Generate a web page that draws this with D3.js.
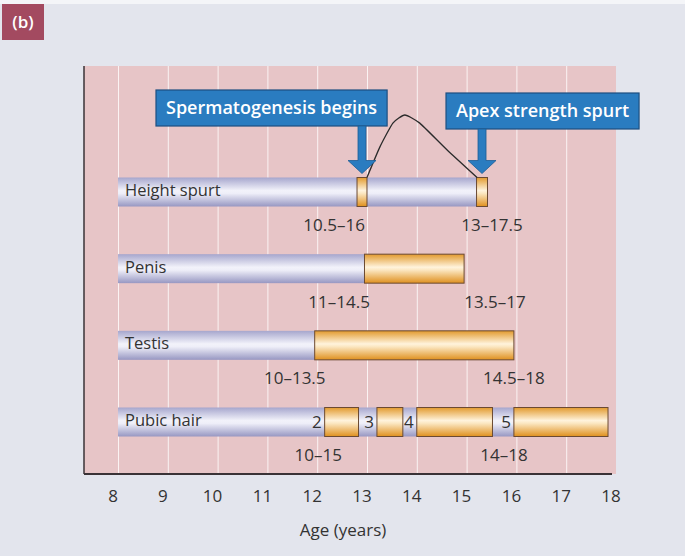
<!DOCTYPE html>
<html lang="en">
<head>
    <meta charset="UTF-8">
    <title>Puberty timing (b)</title>
    <style>
        html,body{
            margin:0;
            height: 100%;
            overflow: hidden;
            background:#e3e5ed;
        }
        text{ font-family: "Open Sans", "Noto Sans", sans-serif; }
    </style>
</head>
<body>
    <svg id="svg"></svg>
    <script src="https://d3js.org/d3.v7.min.js"></script>
    <script>
        // data (ages in years)
        const stages = ["Height spurt", "Penis", "Testis", "Pubic hair"];
        const grayEnd = [15.3, 13.05, 12.05, 16.05];
        const orangeSegs = [
            [[12.9, 13.1], [15.3, 15.52]],
            [[13.05, 15.05]],
            [[12.05, 16.05]],
            [[12.25, 12.93], [13.3, 13.82], [14.1, 15.62], [16.05, 17.94]]
        ];
        const pubicStages = ["2", "3", "4", "5"];
        const onsetRange = ["10.5–16", "11–14.5", "10–13.5", "10–15"];
        const onsetAt = [12.44, 12.54, 11.65, 12.12];
        const endRange = ["13–17.5", "13.5–17", "14.5–18", "14–18"];
        const endAt = [15.61, 15.67, 16.05, 15.85];
        const calloutText = ["Spermatogenesis begins", "Apex strength spurt"];
        const calloutAge = [13.0, 15.41];
        // height velocity peak drawn above the height spurt bar
        const peakAge = [13.1, 13.36, 13.62, 13.86, 14.16, 14.71, 15.31];
        const peakVal = [0, 0.49, 0.87, 1.0, 0.87, 0.44, 0];
        const ticks = [8, 9, 10, 11, 12, 13, 14, 15, 16, 17, 18];

        const width = 685, height = 556;
        const svg = d3.select("#svg").attr('width', width).attr('height', height);

        const plot = { left: 84, right: 616, top: 66, bottom: 474 };
        const x = d3.scaleLinear().domain([8, 18]).range([113, 611]);
        const y = d3.scalePoint().domain(stages).range([192, 422]);
        const barH = 29;

        const defs = svg.append('defs');
        const grad = (id, stops) => {
            const g = defs.append('linearGradient').attr('id', id)
                .attr('x1', 0).attr('y1', 0).attr('x2', 0).attr('y2', 1);
            stops.forEach(s => g.append('stop').attr('offset', s[0]).attr('stop-color', s[1]));
        };
        grad('grayGrad', [[0, '#a6a6cd'], [0.45, '#f2f2fa'], [0.55, '#eeeef8'], [1, '#9797c2']]);
        grad('orangeGrad', [[0, '#e29a2e'], [0.45, '#fff3dc'], [0.55, '#fbe6c0'], [1, '#df901e']]);

        // page background + badge
        svg.append('rect').attr('width', width).attr('height', height).attr('fill', '#e3e5ed');
        svg.append('rect').attr('width', width).attr('height', 4).attr('fill', '#f4f5f8');
        svg.append('rect').attr('x', 2).attr('y', 4).attr('width', 42).attr('height', 36)
            .attr('fill', '#a34a60');
        svg.append('text').attr('x', 23).attr('y', 22).attr('dy', '0.36em')
            .attr('text-anchor', 'middle').attr('fill', '#fff')
            .attr('font-size', 17).attr('font-weight', 600).text('(b)');

        // plot area
        svg.append('rect').attr('x', plot.left).attr('y', plot.top)
            .attr('width', plot.right - plot.left).attr('height', plot.bottom - plot.top)
            .attr('fill', '#e7c5c7');
        svg.append('g').selectAll('line').data(ticks.slice(0, -1)).join('line')
            .attr('x1', d => x(d) + 5.5).attr('x2', d => x(d) + 5.5)
            .attr('y1', plot.top).attr('y2', plot.bottom)
            .attr('stroke', '#fbf3f3').attr('stroke-width', 1);
        svg.append('line').attr('x1', plot.left).attr('x2', plot.left)
            .attr('y1', plot.top).attr('y2', plot.bottom)
            .attr('stroke', '#3a3236').attr('stroke-width', 1.5);
        svg.append('line').attr('x1', plot.left).attr('x2', plot.right - 4)
            .attr('y1', plot.bottom).attr('y2', plot.bottom)
            .attr('stroke', '#3a3236').attr('stroke-width', 2);

        // x axis labels
        svg.append('g').selectAll('text').data(ticks).join('text')
            .attr('x', d => x(d)).attr('y', 496).attr('dy', '0.36em')
            .attr('text-anchor', 'middle').attr('font-size', 17).attr('fill', '#333')
            .text(d => d);
        svg.append('text').attr('x', 343).attr('y', 530).attr('dy', '0.36em')
            .attr('text-anchor', 'middle').attr('font-size', 17).attr('fill', '#333')
            .text('Age (years)');

        // bars
        const rows = svg.append('g').selectAll('g').data(stages).join('g')
            .attr('transform', d => `translate(0,${y(d)})`);
        rows.append('rect')
            .attr('x', x(8.1)).attr('y', -barH / 2)
            .attr('width', (d, i) => x(grayEnd[i]) - x(8.1)).attr('height', barH)
            .attr('fill', 'url(#grayGrad)');
        rows.each(function (d, i) {
            d3.select(this).selectAll('rect.seg').data(orangeSegs[i]).join('rect')
                .attr('class', 'seg')
                .attr('x', s => x(s[0])).attr('y', -barH / 2)
                .attr('width', s => x(s[1]) - x(s[0])).attr('height', barH)
                .attr('fill', 'url(#orangeGrad)')
                .attr('stroke', '#6b4a32').attr('stroke-width', 1);
        });
        rows.append('text').attr('x', 125).attr('y', -2).attr('dy', '0.36em')
            .attr('font-size', 16.5).attr('fill', '#333').text(d => d);
        rows.append('text').attr('x', (d, i) => x(onsetAt[i])).attr('y', 33).attr('dy', '0.36em')
            .attr('text-anchor', 'middle').attr('font-size', 17).attr('fill', '#333')
            .text((d, i) => onsetRange[i]);
        rows.append('text').attr('x', (d, i) => x(endAt[i])).attr('y', 33).attr('dy', '0.36em')
            .attr('text-anchor', 'middle').attr('font-size', 17).attr('fill', '#333')
            .text((d, i) => endRange[i]);

        // pubic hair stage numbers
        const pubic = orangeSegs[3];
        svg.append('g').selectAll('text').data(pubicStages).join('text')
            .attr('x', (d, i) => x(pubic[i][0]) - 3).attr('y', y('Pubic hair')).attr('dy', '0.36em')
            .attr('text-anchor', 'end').attr('font-size', 17).attr('fill', '#333')
            .text(d => d);

        // height velocity peak
        const barTop = y('Height spurt') - barH / 2;
        const yPeak = d3.scaleLinear().domain([0, 1]).range([barTop, 115]);
        const line = d3.line()
            .x(i => x(peakAge[i]))
            .y(i => yPeak(peakVal[i]))
            .curve(d3.curveCardinal.tension(0.5));
        svg.append('path').datum(d3.range(peakAge.length))
            .attr('d', line).attr('fill', 'none')
            .attr('stroke', '#2b2b2b').attr('stroke-width', 1.3);

        // callouts
        const boxLeftPad = [206, 36];
        const boxTop = [90, 93];
        const boxH = 36;
        calloutText.forEach((t, i) => {
            const ax = x(calloutAge[i]);
            const g = svg.append('g');
            const txt = g.append('text').attr('font-size', 18).attr('font-weight', 600)
                .attr('fill', '#fff').text(t);
            const tw = txt.node().getComputedTextLength();
            const bx = ax - boxLeftPad[i];
            const bw = tw + 20;
            g.insert('rect', 'text').attr('x', bx).attr('y', boxTop[i])
                .attr('width', bw).attr('height', boxH)
                .attr('fill', '#2a7cc0').attr('stroke', '#1d4f80').attr('stroke-width', 1.2);
            txt.attr('x', bx + bw / 2).attr('y', boxTop[i] + boxH / 2).attr('dy', '0.36em')
                .attr('text-anchor', 'middle');
            const b = boxTop[i] + boxH, tip = barTop - 4, headTop = tip - 13;
            g.append('path')
                .attr('d', `M${ax - 4},${b} L${ax + 4},${b} L${ax + 4},${headTop} L${ax + 14},${headTop}
                    L${ax},${tip} L${ax - 14},${headTop} L${ax - 4},${headTop} Z`)
                .attr('fill', '#2a7cc0').attr('stroke', '#1d5d95').attr('stroke-width', 0.8);
        });
    </script>
</body>
</html>
